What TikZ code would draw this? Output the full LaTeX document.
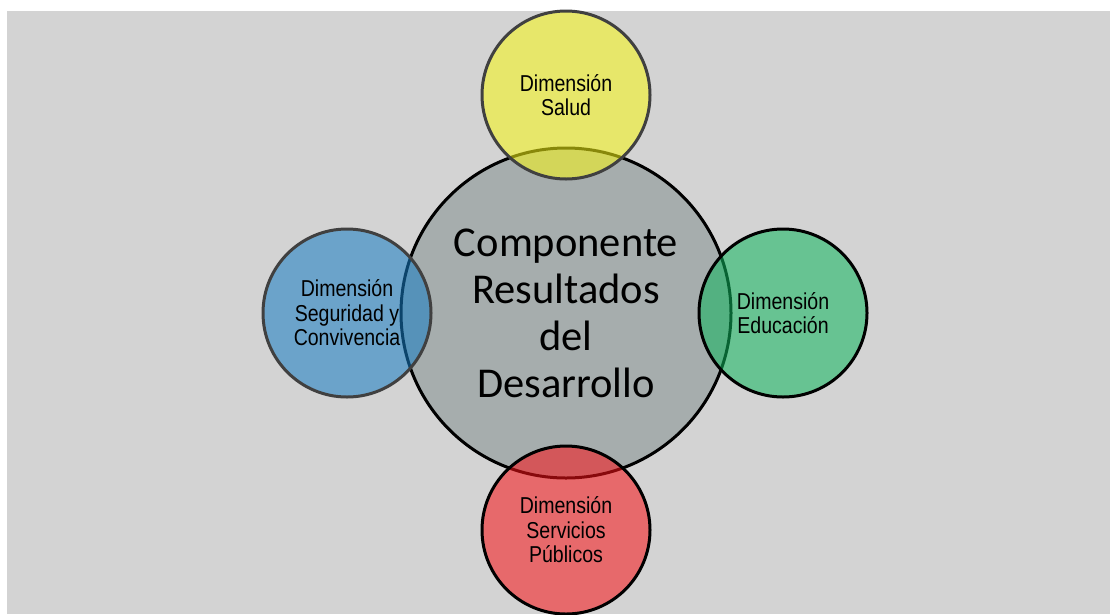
\documentclass[tikz,border=0pt]{standalone}
\usepackage{fontspec}
\newfontfamily\mainlbl{Carlito}
\newfontfamily\dimfont[FakeStretch=0.85]{Liberation Sans}
\definecolor{bggray}{RGB}{211,211,211}
\definecolor{centerfill}{RGB}{166,173,173}
\definecolor{pyellow}{RGB}{249,249,20}
\definecolor{pblue}{RGB}{22,124,196}
\definecolor{pgreen}{RGB}{15,182,93}
\definecolor{pred}{RGB}{249,18,22}
\definecolor{darkborder}{RGB}{64,64,64}
\tikzset{
  sat/.style={circle, minimum size=168pt, inner sep=0pt, line width=3pt, fill opacity=0.55, text opacity=1, align=center, font=\dimfont\fontsize{23}{24.5}\selectfont},
  centre/.style={circle, minimum size=330pt, inner sep=0pt, line width=3pt, draw=black, fill=centerfill, align=center, font=\mainlbl\fontsize{42.5}{47}\selectfont}
}
\begin{document}
\begin{tikzpicture}[x=1pt,y=-1pt]
\useasboundingbox (0,0) rectangle (1110,614);
\fill[white] (0,0) rectangle (1110,614);
\fill[bggray] (7,11) rectangle (1110,614);
\begin{scope}
\clip (0,0) rectangle (1110,614);
\node[centre] (c) at (566,313) {Componente\\Resultados\\del\\Desarrollo};
\node[sat, draw=darkborder, fill=pyellow] (s) at (566,95) {Dimensión\\Salud};
\node[sat, draw=darkborder, fill=pblue] (b) at (347,313) {Dimensión\\Seguridad y\\Convivencia};
\node[sat, draw=black, fill=pgreen] (g) at (783,313) {Dimensión\\Educación};
\node[sat, draw=black, fill=pred] (r) at (566,530) {Dimensión\\Servicios\\Públicos};
\end{scope}
\end{tikzpicture}
\end{document}
